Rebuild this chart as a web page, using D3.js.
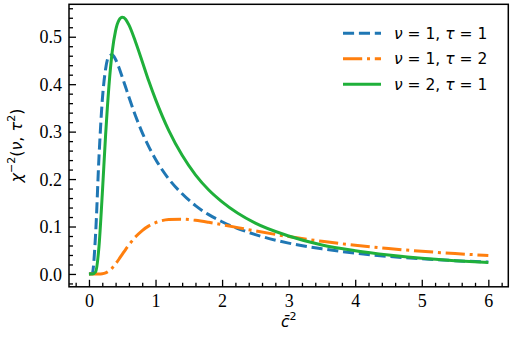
<!DOCTYPE html>
<html>
<head>
<meta charset="utf-8">
<script src="https://cdn.jsdelivr.net/npm/d3@7"></script>
<style>
  body { margin: 0; background: #fff; }
</style>
</head>
<body>
<div id="d3-container"></div>
<script>
// Setting our drawing space
const width = 512,
  height = 337,
  margin = { top: 4.3, bottom: 50.2, left: 69, right: 3.7 };

// Values
const xValues = [0, 0.05, 0.1, 0.15, 0.2, 0.25, 0.3, 0.35, 0.4, 0.45, 0.5, 0.55, 0.6, 0.7, 0.8, 0.9,
  1.0, 1.2, 1.4, 1.6, 1.8, 2.0, 2.5, 3.0, 3.5, 4.0, 4.5, 5.0, 5.5, 6.0];
const nu1tau1 = [0, 0.0016, 0.085, 0.245, 0.366, 0.432, 0.459, 0.462, 0.452, 0.435, 0.415, 0.394, 0.373, 0.333, 0.298, 0.268,
  0.242, 0.200, 0.169, 0.144, 0.125, 0.110, 0.083, 0.065, 0.053, 0.044, 0.037, 0.032, 0.028, 0.025];
const nu1tau2 = [0, 0, 0, 0, 0.0004, 0.0021, 0.0062, 0.0127, 0.0213, 0.031, 0.0413, 0.0515, 0.0613, 0.0782, 0.0915, 0.1013,
  0.108, 0.1146, 0.1154, 0.113, 0.1088, 0.1038, 0.0907, 0.0788, 0.0688, 0.0605, 0.0536, 0.0478, 0.043, 0.0389];
const nu2tau1 = [0, 0, 0.0045, 0.057, 0.168, 0.293, 0.396, 0.469, 0.513, 0.535, 0.541, 0.537, 0.525, 0.489, 0.448, 0.406,
  0.368, 0.302, 0.250, 0.209, 0.177, 0.152, 0.107, 0.080, 0.061, 0.049, 0.040, 0.033, 0.028, 0.024];

const xTicks = [0, 1, 2, 3, 4, 5, 6];
const yTicks = [0.0, 0.1, 0.2, 0.3, 0.4, 0.5];

const series = [
  { nu: "1", tau: "1", values: nu1tau1, color: "#1f77b4", dash: "11.1,4.8" },
  { nu: "1", tau: "2", values: nu1tau2, color: "#ff7f0e", dash: "19.2,4.8,3,4.8" },
  { nu: "2", tau: "1", values: nu2tau1, color: "#1fb03a", dash: null }
];

const svg = d3.select("#d3-container")
  .append("svg")
  .attr("width", width)
  .attr("height", height);

// Scales
const xScale = d3.scaleLinear()
  .domain([-0.3, 6.3])
  .range([margin.left, width - margin.right]);

const yScale = d3.scaleLinear()
  .domain([-0.02707, 0.56837])
  .range([height - margin.bottom, margin.top]);

// Axes, ticks point inward
const xAxis = d3.axisBottom(xScale)
  .tickValues(xTicks)
  .tickFormat(d3.format("d"))
  .tickSizeInner(-7)
  .tickSizeOuter(0)
  .tickPadding(7);

const xMinor = d3.axisBottom(xScale)
  .tickValues(d3.range(-0.2, 6.3, 0.2).filter(v => Math.abs(v - Math.round(v)) > 0.01))
  .tickFormat("")
  .tickSizeInner(-4)
  .tickSizeOuter(0);

const yAxis = d3.axisLeft(yScale)
  .tickValues(yTicks)
  .tickFormat(d3.format(".1f"))
  .tickSizeInner(-7)
  .tickSizeOuter(0)
  .tickPadding(7);

const yMinor = d3.axisLeft(yScale)
  .tickValues(d3.range(-0.02, 0.565, 0.02).filter(v => Math.abs(v * 10 - Math.round(v * 10)) > 0.01))
  .tickFormat("")
  .tickSizeInner(-4)
  .tickSizeOuter(0);

const xAxisGroup = svg.append("g")
  .attr("class", "xAxis")
  .attr("transform", `translate(0, ${height - margin.bottom})`)
  .call(xAxis);

svg.append("g")
  .attr("transform", `translate(0, ${height - margin.bottom})`)
  .call(xMinor);

const yAxisGroup = svg.append("g")
  .attr("class", "yAxis")
  .attr("transform", `translate(${margin.left}, 0)`)
  .call(yAxis);

svg.append("g")
  .attr("transform", `translate(${margin.left}, 0)`)
  .call(yMinor);

svg.selectAll(".domain").remove();
svg.selectAll(".tick line").attr("stroke", "#000").attr("stroke-width", 1.3);
svg.selectAll(".tick text")
  .attr("font-family", "Liberation Serif")
  .attr("font-size", 18)
  .attr("fill", "#000");
yAxisGroup.selectAll(".tick text").attr("dy", "0.34em");

// Lines
const lineFunction = d3.line()
  .x((d, i) => xScale(xValues[i]))
  .y(d => yScale(d))
  .curve(d3.curveMonotoneX);

svg.selectAll("path.line")
  .data(series)
  .join("path")
  .attr("class", "line")
  .attr("d", d => lineFunction(d.values))
  .attr("fill", "none")
  .attr("stroke", d => d.color)
  .attr("stroke-width", 3)
  .attr("stroke-dasharray", d => d.dash);

// Frame
svg.append("rect")
  .attr("x", margin.left)
  .attr("y", margin.top)
  .attr("width", width - margin.left - margin.right)
  .attr("height", height - margin.top - margin.bottom)
  .attr("fill", "none")
  .attr("stroke", "#000")
  .attr("stroke-width", 1.5);

// Legend
const legend = svg.append("g")
  .attr("transform", "translate(343, 33.3)");

const rows = legend.selectAll("g")
  .data(series)
  .join("g")
  .attr("transform", (d, i) => `translate(0, ${i * 25.5})`);

rows.append("line")
  .attr("x1", 0)
  .attr("x2", 38)
  .attr("stroke", d => d.color)
  .attr("stroke-width", 3)
  .attr("stroke-dasharray", d => d.dash);

const labels = rows.append("text")
  .attr("x", 51)
  .attr("y", 5.5)
  .attr("font-family", "DejaVu Sans")
  .attr("font-size", 15.5);

labels.append("tspan").attr("font-style", "italic").text("ν");
labels.append("tspan").text(d => ` = ${d.nu}, `);
labels.append("tspan").attr("font-style", "italic").text("τ");
labels.append("tspan").text(d => ` = ${d.tau}`);

// Axis titles
const xTitle = svg.append("text")
  .attr("x", xScale(3))
  .attr("y", 327)
  .attr("text-anchor", "middle")
  .attr("font-family", "DejaVu Sans")
  .attr("font-size", 15.5);
xTitle.append("tspan").attr("font-style", "italic").text("c\u0304");
xTitle.append("tspan").attr("font-size", 11).attr("dy", -7).text("2");

const yTitle = svg.append("text")
  .attr("transform", `translate(22, ${(margin.top + height - margin.bottom) / 2})rotate(-90)`)
  .attr("text-anchor", "middle")
  .attr("font-family", "DejaVu Sans")
  .attr("font-size", 16);
yTitle.append("tspan").attr("font-style", "italic").text("χ");
yTitle.append("tspan").attr("font-size", 11).attr("dy", -7).text("−2");
yTitle.append("tspan").attr("dy", 7).text("(");
yTitle.append("tspan").attr("font-style", "italic").text("ν");
yTitle.append("tspan").text(", ");
yTitle.append("tspan").attr("font-style", "italic").text("τ");
yTitle.append("tspan").attr("font-size", 11).attr("dy", -7).text("2");
yTitle.append("tspan").attr("dy", 7).text(")");
</script>
</body>
</html>
